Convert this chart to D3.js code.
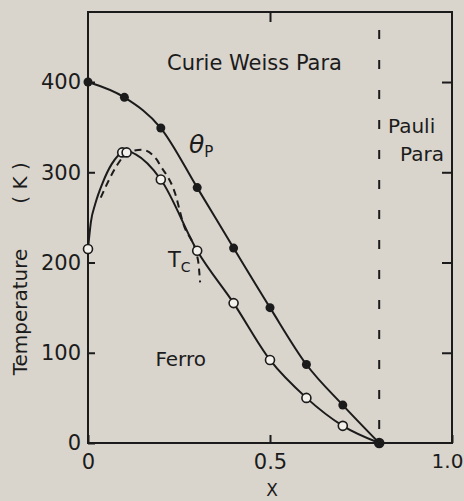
<!DOCTYPE html>
<html><head><meta charset="utf-8">
<script src="https://cdn.jsdelivr.net/npm/d3@7"></script>
<style>html,body{margin:0;padding:0;background:#d9d4cc;} svg{display:block;}</style>
</head><body>
<svg id="chart" width="464" height="501"></svg>
<script>
// ---- data ----
const xTickValues = [0, 0.5, 1.0];
const xTickLabels = ["0", "0.5", "1.0"];
const yTickValues = [0, 100, 200, 300, 400];
const yTickLabels = ["0", "100", "200", "300", "400"];
const thetaX = [0, 0.1, 0.2, 0.3, 0.4, 0.5, 0.6, 0.7, 0.8];
const thetaP = [400, 383, 349, 283, 216, 150, 87, 42, 0];
const tcX = [0, 0.094, 0.106, 0.2, 0.3, 0.4, 0.5, 0.6, 0.7, 0.8];
const tcVal = [215, 322, 322, 292, 213, 155, 92, 50, 19, 0];
const tcCurveX = [0, 0.008, 0.02, 0.04, 0.065, 0.095, 0.112, 0.13, 0.2, 0.3, 0.4, 0.5, 0.6, 0.7, 0.8];
const tcCurveY = [215, 245, 265, 288, 309, 322, 323, 320, 292, 213, 155, 92, 50, 19, 0];
const dashCurveX = [0.035, 0.051, 0.08, 0.11, 0.147, 0.189, 0.198, 0.239, 0.261, 0.302, 0.308];
const dashCurveY = [272, 286, 308, 322, 325, 314, 308, 277, 244, 203, 178];
const boundaryX = 0.8;

// ---- layout ----
const W = 464, H = 501;
const svg = d3.select("#chart");
const ink = "#1b1b1b";
const x = d3.scaleLinear().domain([0, 1]).range([88, 452]);
const y = d3.scaleLinear().domain([0, 477.6]).range([443, 12]);

svg.append("rect").attr("width", W).attr("height", H).attr("fill", "#d9d4cc");

// frame
svg.append("rect").attr("x", x(0)).attr("y", y(477.6))
  .attr("width", x(1) - x(0)).attr("height", y(0) - y(477.6))
  .attr("fill", "none").attr("stroke", ink).attr("stroke-width", 2);

function styleAxis(g) {
  g.select(".domain").remove();
  g.selectAll(".tick line").attr("stroke", ink).attr("stroke-width", 2);
  g.selectAll(".tick text").attr("fill", ink)
    .style("font-family", "'DejaVu Sans', sans-serif").style("font-size", "21px");
}

svg.append("g").attr("transform", `translate(${x(0)},0)`)
  .call(d3.axisLeft(y).tickValues(yTickValues).tickSize(-7).tickPadding(7)
    .tickFormat((d, i) => yTickLabels[i]))
  .call(styleAxis);
const xAxisG = svg.append("g").attr("transform", `translate(0,${y(0)})`)
  .call(d3.axisBottom(x).tickValues(xTickValues).tickSize(-8).tickPadding(11)
    .tickFormat((d, i) => xTickLabels[i]))
  .call(styleAxis);
xAxisG.selectAll(".tick text").filter(d => d === 1).attr("dx", -5).style("font-size", "20px");
svg.append("g").attr("transform", `translate(0,${y(477.6)})`)
  .call(d3.axisTop(x).tickValues([0.5]).tickSize(-10).tickFormat(""))
  .call(styleAxis);
svg.append("g").attr("transform", `translate(${x(1)},0)`)
  .call(d3.axisRight(y).tickValues([100, 200, 300, 400]).tickSize(-10).tickFormat(""))
  .call(styleAxis);

// boundary dashed line
svg.append("line").attr("x1", x(boundaryX)).attr("x2", x(boundaryX))
  .attr("y1", 30).attr("y2", y(0))
  .attr("stroke", ink).attr("stroke-width", 2).attr("stroke-dasharray", "9,21");

const line = d3.line().curve(d3.curveMonotoneX).x(d => x(d[0])).y(d => y(d[1]));

const thetaPts = thetaX.map((v, i) => [v, thetaP[i]]);
const tcPts = tcX.map((v, i) => [v, tcVal[i]]);
const tcCurve = tcCurveX.map((v, i) => [v, tcCurveY[i]]);
const dashCurve = dashCurveX.map((v, i) => [v, dashCurveY[i]]);

svg.append("path").attr("d", line(dashCurve)).attr("fill", "none")
  .attr("stroke", ink).attr("stroke-width", 2).attr("stroke-dasharray", "7,5");
svg.append("path").attr("d", line(tcCurve)).attr("fill", "none")
  .attr("stroke", ink).attr("stroke-width", 2);
svg.append("path").attr("d", line(thetaPts)).attr("fill", "none")
  .attr("stroke", ink).attr("stroke-width", 2);

svg.selectAll(".tc").data(tcPts).enter().append("circle")
  .attr("cx", d => x(d[0])).attr("cy", d => y(d[1])).attr("r", 4.5)
  .attr("fill", "#f4f1ec").attr("stroke", ink).attr("stroke-width", 1.6);
svg.selectAll(".th").data(thetaPts).enter().append("circle")
  .attr("cx", d => x(d[0])).attr("cy", d => y(d[1])).attr("r", 4.5)
  .attr("fill", ink);

// labels
function txt(s, px, py, size, anchor) {
  return svg.append("text").attr("x", px).attr("y", py).text(s)
    .attr("fill", ink).attr("text-anchor", anchor || "start")
    .style("font-family", "'DejaVu Sans', sans-serif").style("font-size", size + "px");
}
txt("Curie Weiss Para", 167, 70, 21);
txt("Pauli", 388, 133, 20);
txt("Para", 400, 161, 20);
txt("Ferro", 206, 366, 20, "end");
const th = svg.append("text").attr("x", 189).attr("y", 153).attr("fill", ink)
  .style("font-family", "'DejaVu Sans', sans-serif");
th.append("tspan").text("θ").style("font-size", "25px").style("font-style", "italic");
th.append("tspan").text("P").attr("dy", 4).style("font-size", "15px");
const tc = svg.append("text").attr("x", 168).attr("y", 267).attr("fill", ink)
  .style("font-family", "'DejaVu Sans', sans-serif");
tc.append("tspan").text("T").style("font-size", "21px");
tc.append("tspan").text("C").attr("dy", 5).style("font-size", "14px");
txt("X", 272, 496, 17, "middle");
svg.append("text").attr("transform", "translate(27,312) rotate(-90)")
  .attr("text-anchor", "middle").attr("fill", ink).text("Temperature")
  .style("font-family", "'DejaVu Sans', sans-serif").style("font-size", "20px");
svg.append("text").attr("transform", "translate(27,183) rotate(-90)")
  .attr("text-anchor", "middle").attr("fill", ink).text("( K )")
  .style("font-family", "'DejaVu Sans', sans-serif").style("font-size", "20px")
  .style("white-space", "pre");
</script>
</body></html>
